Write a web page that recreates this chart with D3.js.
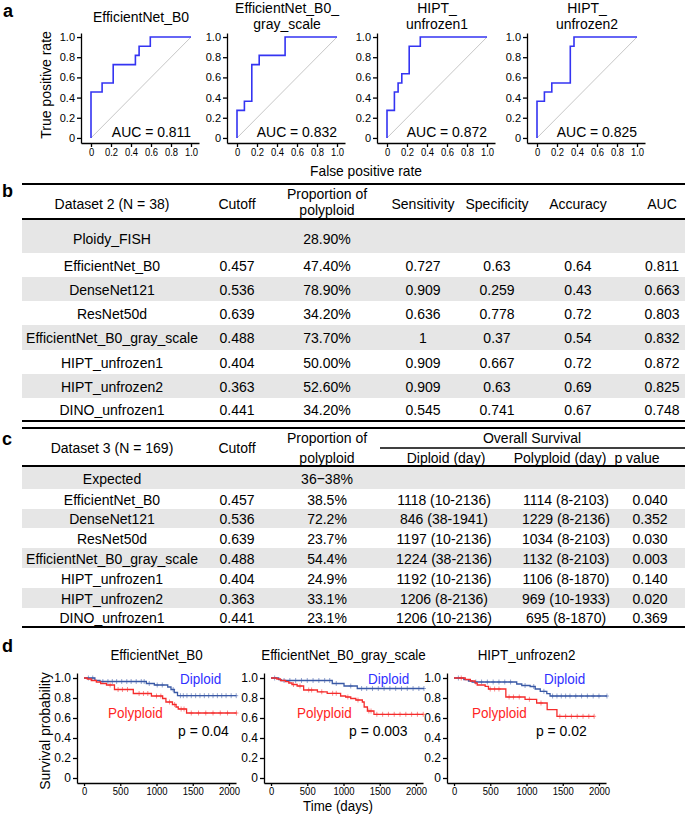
<!DOCTYPE html>
<html>
<head>
<meta charset="utf-8">
<script src="https://cdn.jsdelivr.net/npm/d3@7"></script>
<style>
body { margin: 0; background: #fff; }
svg text { font-family: "Liberation Sans", Arial, sans-serif; fill: #000; }
</style>
</head>
<body>
<div id="fig"></div>
<script>
// ---------- data : panel a (ROC) ----------
var rocTitles = [["EfficientNet_B0"], ["EfficientNet_B0_", "gray_scale"], ["HIPT_", "unfrozen1"], ["HIPT_", "unfrozen2"]];
var rocAuc = ["0.811", "0.832", "0.872", "0.825"];
// corners of the step curve: fpr where the tpr jumps, and the new tpr
var rocFpr = [
	[0, 0, 0.111, 0.222, 0.444, 0.481, 0.593, 1],
	[0, 0, 0.074, 0.148, 0.222, 0.481, 1],
	[0, 0, 0.074, 0.111, 0.148, 0.222, 0.333, 1],
	[0, 0, 0.074, 0.148, 0.333, 0.370, 1]
];
var rocTpr = [
	[0, 0.455, 0.545, 0.727, 0.818, 0.909, 1, 1],
	[0, 0.273, 0.364, 0.727, 0.818, 1, 1],
	[0, 0.273, 0.455, 0.545, 0.636, 0.909, 1, 1],
	[0, 0.364, 0.455, 0.545, 0.909, 1, 1]
];
var rocTicks = [0, 0.2, 0.4, 0.6, 0.8, 1.0];

// ---------- data : panel b ----------
var tabBHead = ["Dataset 2 (N = 38)", "Cutoff", ["Proportion of", "polyploid"], "Sensitivity", "Specificity", "Accuracy", "AUC"];
var tabBModel = ["Ploidy_FISH", "EfficientNet_B0", "DenseNet121", "ResNet50d", "EfficientNet_B0_gray_scale", "HIPT_unfrozen1", "HIPT_unfrozen2", "DINO_unfrozen1"];
var tabBCutoff = ["", "0.457", "0.536", "0.639", "0.488", "0.404", "0.363", "0.441"];
var tabBProp = ["28.90%", "47.40%", "78.90%", "34.20%", "73.70%", "50.00%", "52.60%", "34.20%"];
var tabBSens = ["", "0.727", "0.909", "0.636", "1", "0.909", "0.909", "0.545"];
var tabBSpec = ["", "0.63", "0.259", "0.778", "0.37", "0.667", "0.63", "0.741"];
var tabBAcc = ["", "0.64", "0.43", "0.72", "0.54", "0.72", "0.69", "0.67"];
var tabBAuc = ["", "0.811", "0.663", "0.803", "0.832", "0.872", "0.825", "0.748"];

// ---------- data : panel c ----------
var tabCModel = ["Expected", "EfficientNet_B0", "DenseNet121", "ResNet50d", "EfficientNet_B0_gray_scale", "HIPT_unfrozen1", "HIPT_unfrozen2", "DINO_unfrozen1"];
var tabCCutoff = ["", "0.457", "0.536", "0.639", "0.488", "0.404", "0.363", "0.441"];
var tabCProp = ["36\u221238%", "38.5%", "72.2%", "23.7%", "54.4%", "24.9%", "33.1%", "23.1%"];
var tabCDiploid = ["", "1118 (10-2136)", "846 (38-1941)", "1197 (10-2136)", "1224 (38-2136)", "1192 (10-2136)", "1206 (8-2136)", "1206 (10-2136)"];
var tabCPoly = ["", "1114 (8-2103)", "1229 (8-2136)", "1034 (8-2103)", "1132 (8-2103)", "1106 (8-1870)", "969 (10-1933)", "695 (8-1870)"];
var tabCP = ["", "0.040", "0.352", "0.030", "0.003", "0.140", "0.020", "0.369"];

// ---------- data : panel d (Kaplan-Meier) ----------
var kmTitles = ["EfficientNet_B0", "EfficientNet_B0_gray_scale", "HIPT_unfrozen2"];
var kmP = ["0.04", "0.003", "0.02"];
var kmDipT = [
	[150, 220, 860, 970, 1155, 1200, 1245, 1290, 2100],
	[105, 140, 845, 1007, 1190, 2110],
	[135, 200, 250, 865, 935, 1050, 1120, 1190, 1280, 1325, 2110]
];
var kmDipS = [
	[0.977, 0.965, 0.945, 0.93, 0.91, 0.885, 0.855, 0.823, 0.823],
	[0.983, 0.975, 0.945, 0.92, 0.895, 0.895],
	[0.983, 0.97, 0.96, 0.94, 0.925, 0.915, 0.89, 0.867, 0.843, 0.82, 0.82]
];
var kmPolT = [
	[45, 100, 170, 230, 310, 420, 680, 930, 1085, 1130, 1220, 1270, 1300, 1415, 2103],
	[80, 130, 200, 245, 290, 360, 450, 640, 775, 960, 1030, 1100, 1170, 1260, 1285, 1330, 1420, 2100],
	[155, 225, 290, 320, 430, 475, 715, 980, 1140, 1285, 1420, 1933]
];
var kmPolS = [
	[0.99, 0.975, 0.96, 0.945, 0.93, 0.885, 0.845, 0.82, 0.795, 0.76, 0.735, 0.71, 0.69, 0.65, 0.65],
	[0.99, 0.975, 0.963, 0.95, 0.935, 0.92, 0.88, 0.862, 0.847, 0.82, 0.81, 0.795, 0.78, 0.76, 0.71, 0.67, 0.637, 0.637],
	[0.985, 0.97, 0.95, 0.93, 0.917, 0.89, 0.81, 0.787, 0.75, 0.683, 0.617, 0.617]
];
var kmDipCens = [
	[60, 120, 260, 330, 390, 450, 520, 590, 650, 720, 790, 830, 900, 1010, 1080, 1230, 1330, 1370, 1420, 1480, 1540, 1600, 1660, 1720, 1780, 1840, 1900, 1960, 2030, 2100],
	[50, 180, 260, 340, 420, 500, 580, 660, 740, 810, 900, 1100, 1250, 1320, 1400, 1480, 1560, 1640, 1720, 1800, 1880, 1960, 2040, 2110],
	[60, 300, 380, 460, 540, 620, 700, 780, 980, 1100, 1240, 1360, 1420, 1480, 1540, 1600, 1680, 1760, 1840, 1920, 2000, 2110]
];
var kmPolCens = [
	[360, 470, 530, 600, 760, 820, 880, 1000, 1060, 1180, 1250, 1340, 1380, 1480, 1580, 1680, 1780, 1880, 1980, 2103],
	[310, 400, 520, 560, 700, 850, 900, 1060, 1200, 1350, 1380, 1460, 1540, 1620, 1700, 1780, 1860, 1940, 2020, 2100],
	[100, 500, 560, 620, 760, 820, 900, 1040, 1200, 1460, 1540, 1620, 1700, 1780, 1860, 1933]
];
var kmXTicks = [0, 500, 1000, 1500, 2000];
var kmYTicks = [0, 0.2, 0.4, 0.6, 0.8, 1.0];

// ---------- layout ----------
var W = 685, H = 814;
var blueRoc = "#3434f2", gridGray = "#b8b8b8", rowGray = "#e6e6e6";
var dipCol = "#3a5aa6", polCol = "#f52c2c", dipLab = "#2f2fff", polLab = "#ff2424";
// the source figure is squeezed sideways, so text is drawn a little narrow
var TAB_FS = 15.4, TAB_SX = 0.91;

var svg = d3.select("#fig").append("svg")
	.attr("width", W)
	.attr("height", H);

function txt(g, x, y, s, size, anchor, sx, color) {
	var t = g.append("text")
		.attr("font-size", size)
		.attr("text-anchor", anchor || "middle")
		.text(s);
	if (sx && sx !== 1) {
		t.attr("transform", "translate(" + x + "," + y + ") scale(" + sx + ",1)");
	} else {
		t.attr("x", x).attr("y", y);
	}
	if (color) t.style("fill", color);
	return t;
}

function tickFmt(d) { return d === 0 ? "0" : d3.format(".1f")(d); }

function styleAxis(a, size, sx) {
	a.attr("font-family", null).attr("font-size", size);
	a.selectAll("path,line").attr("stroke", "#000").attr("stroke-width", 1.3);
	if (sx) a.selectAll("text").attr("transform", "scale(" + sx + ",1)");
}

// panel letters
[["a", 3, 17], ["b", 2, 197], ["c", 2, 445], ["d", 2, 652]].forEach(function(p){
	txt(svg, p[1], p[2], p[0], 18, "start").attr("font-weight", "bold");
});

// ================= panel a =================
var rocX0 = [91, 237, 387, 537];
var rocY = d3.scaleLinear().domain([-0.05, 1.04]).range([143, 33]);

rocX0.forEach(function(x0, i) {
	var x = d3.scaleLinear().domain([-0.1, 1.08]).range([x0 - 10, x0 + 108]);
	var g = svg.append("g");

	var ya = g.append("g")
		.attr("transform", "translate(" + (x0 - 10) + ",0)")
		.call(d3.axisLeft(rocY).tickValues(rocTicks).tickFormat(tickFmt).tickSizeInner(4).tickSizeOuter(0).tickPadding(2));
	styleAxis(ya, 11);

	var xa = g.append("g")
		.attr("transform", "translate(0,143)")
		.call(d3.axisBottom(x).tickValues(rocTicks).tickFormat(tickFmt).tickSizeInner(4).tickSizeOuter(0).tickPadding(2));
	styleAxis(xa, 10.5, 0.9);

	// chance line
	g.append("line")
		.attr("x1", x(0)).attr("y1", rocY(0))
		.attr("x2", x(1)).attr("y2", rocY(1))
		.attr("stroke", gridGray).attr("stroke-width", 0.8);

	var pts = rocFpr[i].map(function(f, k){ return [f, rocTpr[i][k]]; });
	g.append("path")
		.datum(pts)
		.attr("fill", "none")
		.attr("stroke", blueRoc)
		.attr("stroke-width", 1.6)
		.attr("d", d3.line().x(function(d){ return x(d[0]); }).y(function(d){ return rocY(d[1]); }).curve(d3.curveStepAfter));

	txt(g, x(1), 137, "AUC = " + rocAuc[i], 15, "end", 0.93);

	var lines = rocTitles[i];
	if (lines.length === 1) {
		txt(g, x(0.5), 22, lines[0], 15.2, "middle", 0.92);
	} else {
		txt(g, x(0.5), 12.5, lines[0], 15.2, "middle", 0.92);
		txt(g, x(0.5), 28.5, lines[1], 15.2, "middle", 0.92);
	}
});

svg.append("text")
	.attr("transform", "translate(51,85) rotate(-90)")
	.attr("font-size", 14)
	.attr("text-anchor", "middle")
	.text("True positive rate");
txt(svg, 366, 176, "False positive rate", 15, "middle", 0.92);

// ================= tables =================
function hline(y, x1, x2, w) {
	svg.append("line")
		.attr("x1", x1).attr("x2", x2)
		.attr("y1", y).attr("y2", y)
		.attr("stroke", "#000").attr("stroke-width", w);
}

function drawRows(cols, colX, rowTop, rowBot, firstBase) {
	var g = svg.append("g");
	g.selectAll("rect")
		.data(rowTop)
		.enter().append("rect")
		.attr("x", 22).attr("width", W - 22)
		.attr("y", function(d){ return d; })
		.attr("height", function(d, i){ return rowBot[i] - d; })
		.attr("fill", function(d, i){ return i % 2 === 0 ? rowGray : "#fff"; });
	cols.forEach(function(col, c) {
		col.forEach(function(s, r) {
			if (s === "") return;
			var base = r === 0 ? firstBase : (rowTop[r] + rowBot[r]) / 2 + 5.5;
			txt(g, colX[c], base, s, TAB_FS, "middle", TAB_SX);
		});
	});
}

// panel b
var bColX = [112, 237, 327, 423, 497, 578, 662];
var bRowTop = [219, 253, 277, 301, 325, 350, 374, 398];
var bRowBot = [253, 277, 301, 325, 350, 374, 398, 421];
drawRows([tabBModel, tabBCutoff, tabBProp, tabBSens, tabBSpec, tabBAcc, tabBAuc], bColX, bRowTop, bRowBot, 244);
tabBHead.forEach(function(h, c) {
	if (Array.isArray(h)) {
		txt(svg, bColX[c], 199, h[0], TAB_FS, "middle", TAB_SX);
		txt(svg, bColX[c], 215, h[1], TAB_FS, "middle", TAB_SX);
	} else {
		txt(svg, bColX[c], 209, h, TAB_FS, "middle", TAB_SX);
	}
});
hline(184, 22, W, 2.2);
hline(219, 22, W, 2);
hline(421, 22, W, 2.2);

// panel c
var cColX = [112, 237, 327, 444, 566, 650];
var cRowTop = [466, 489, 509, 528, 548, 568, 588, 608];
var cRowBot = [489, 509, 528, 548, 568, 588, 608, 627];
drawRows([tabCModel, tabCCutoff, tabCProp, tabCDiploid, tabCPoly, tabCP], cColX, cRowTop, cRowBot, 484);
txt(svg, cColX[0], 453, "Dataset 3 (N = 169)", TAB_FS, "middle", TAB_SX);
txt(svg, cColX[1], 453, "Cutoff", TAB_FS, "middle", TAB_SX);
txt(svg, cColX[2], 443, "Proportion of", TAB_FS, "middle", TAB_SX);
txt(svg, cColX[2], 463, "polyploid", TAB_FS, "middle", TAB_SX);
txt(svg, 532, 443, "Overall Survival", TAB_FS, "middle", TAB_SX);
txt(svg, 446, 463, "Diploid (day)", TAB_FS, "middle", TAB_SX);
txt(svg, 560, 463, "Polyploid (day)", TAB_FS, "middle", TAB_SX);
txt(svg, 637, 463, "p value", TAB_FS, "middle", TAB_SX);
hline(428, 22, W, 2.2);
hline(448, 380, W, 1.6);
hline(466, 22, W, 2);
hline(627, 22, W, 2.2);

// ================= panel d =================
var kmX0 = [84, 271, 454];
var kmY = d3.scaleLinear().domain([-0.05, 1.05]).range([783, 673]);
var kmLabelPos = [
	{dip: 1324, pol: 331, p: 1297},
	{dip: 1338, pol: 359, p: 1076},
	{dip: 1241, pol: 248, p: 1131}
];

function survAt(T, S, t) {
	var s = 1;
	for (var k = 0; k < T.length; k++) { if (T[k] <= t) s = S[k]; }
	return s;
}

kmX0.forEach(function(x0, i) {
	var x = d3.scaleLinear().domain([-97, 2097]).range([x0 - 7, x0 + 152]);
	var g = svg.append("g");

	var ya = g.append("g")
		.attr("transform", "translate(" + (x0 - 7) + ",0)")
		.call(d3.axisLeft(kmY).tickValues(kmYTicks).tickFormat(tickFmt).tickSizeInner(4).tickSizeOuter(0).tickPadding(2));
	styleAxis(ya, 12);

	var xa = g.append("g")
		.attr("transform", "translate(0,783)")
		.call(d3.axisBottom(x).tickValues(kmXTicks).tickFormat(d3.format("d")).tickSizeInner(3).tickSizeOuter(0).tickPadding(1.5));
	styleAxis(xa, 10, 0.95);

	var line = d3.line()
		.x(function(d){ return x(d[0]); })
		.y(function(d){ return kmY(d[1]); })
		.curve(d3.curveStepAfter);

	[[kmDipT[i], kmDipS[i], kmDipCens[i], dipCol], [kmPolT[i], kmPolS[i], kmPolCens[i], polCol]].forEach(function(c) {
		var pts = [[0, 1]].concat(c[0].map(function(t, k){ return [t, c[1][k]]; }));
		g.append("path")
			.datum(pts)
			.attr("fill", "none")
			.attr("stroke", c[3])
			.attr("stroke-width", 1.3)
			.attr("d", line);
		var cg = g.append("g").attr("stroke", c[3]).attr("stroke-opacity", 0.55).attr("stroke-width", 1);
		c[2].forEach(function(t) {
			var px = x(t), py = kmY(survAt(c[0], c[1], t));
			cg.append("line").attr("x1", px).attr("x2", px).attr("y1", py - 2.5).attr("y2", py + 2.5);
			cg.append("line").attr("x1", px - 2).attr("x2", px + 2).attr("y1", py).attr("y2", py);
		});
	});

	txt(g, x(1000), 660, kmTitles[i], 14.6, "middle", 0.92);
	var lp = kmLabelPos[i];
	txt(g, x(lp.dip), 684, "Diploid", 15, "start", 0.9, dipLab);
	txt(g, x(lp.pol), 718, "Polyploid", 15, "start", 0.9, polLab);
	txt(g, x(lp.p), 736, "p = " + kmP[i], 15, "start", 0.93);
});

svg.append("text")
	.attr("transform", "translate(50,731) rotate(-90)")
	.attr("font-size", 14)
	.attr("text-anchor", "middle")
	.text("Survival probability");
txt(svg, 338, 810.5, "Time (days)", 15.5, "middle", 0.86);
</script>
</body>
</html>
